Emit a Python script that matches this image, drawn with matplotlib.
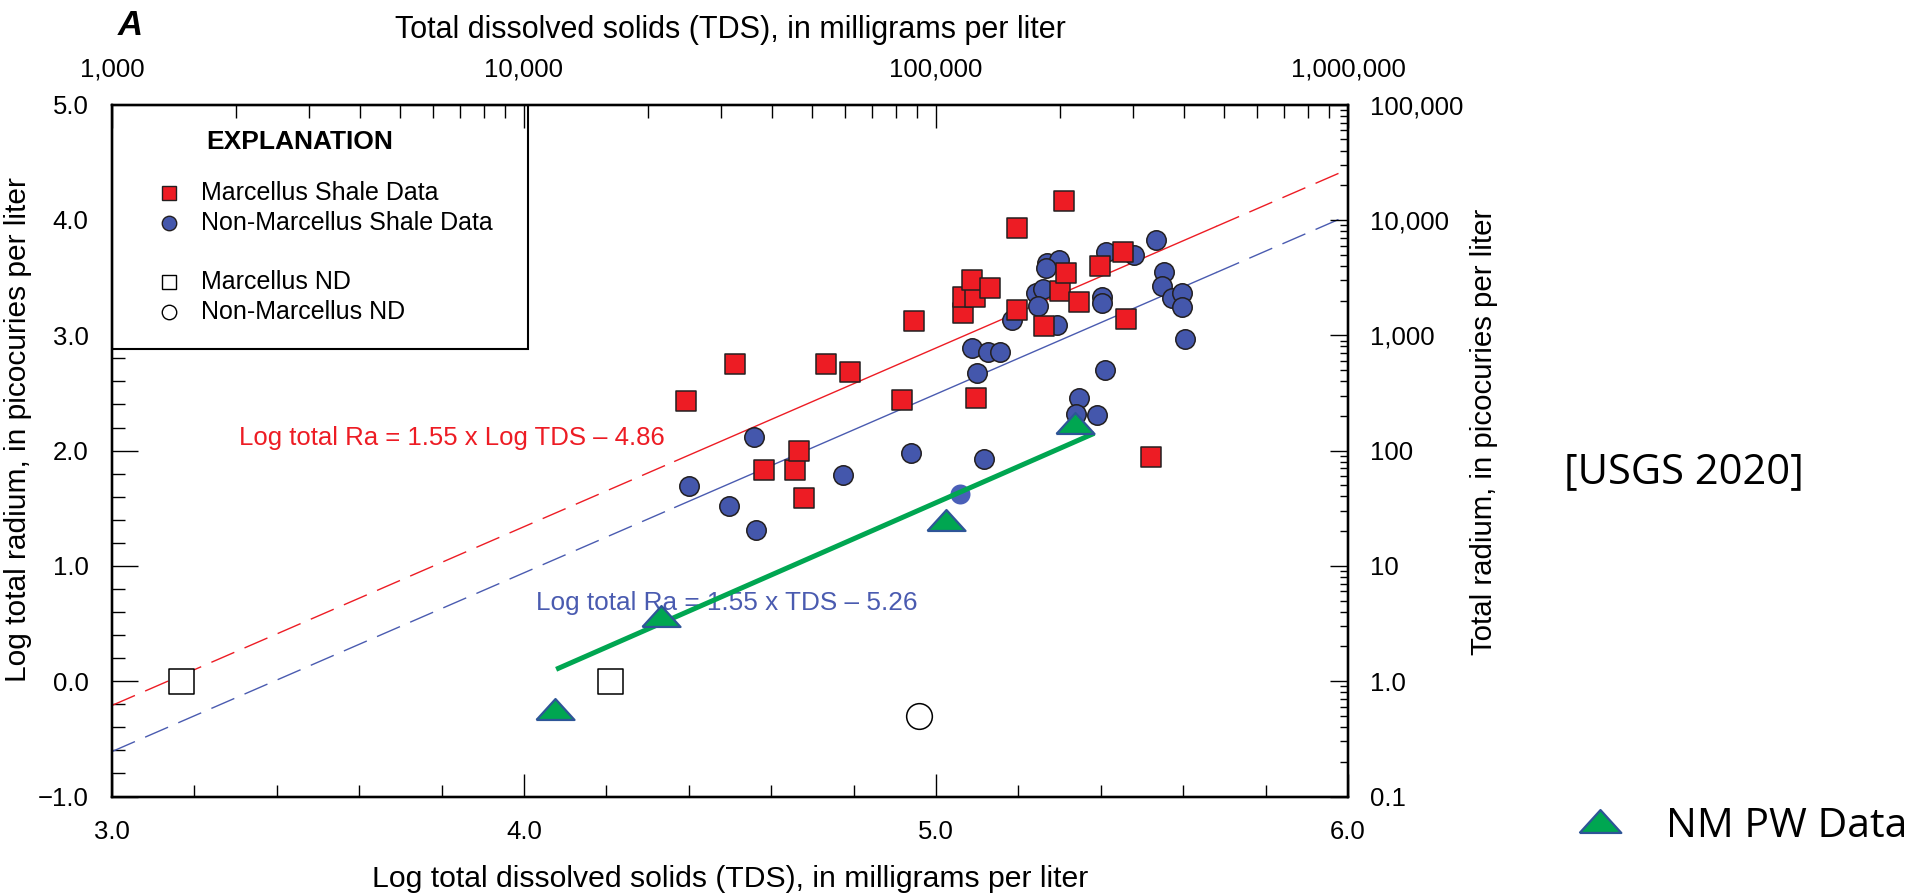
import numpy as np
import matplotlib
matplotlib.use("Agg")
import matplotlib.pyplot as plt
from matplotlib import font_manager as fm
from matplotlib.patches import Rectangle
from matplotlib.ticker import FixedLocator, MultipleLocator, FuncFormatter, LogLocator

# values: log TDS (x) against log total radium (y)
marcellus_x = [4.393, 4.512, 4.733, 4.791, 4.582, 4.657, 4.667, 4.680, 4.917, 4.947,
               5.065, 5.066, 5.095, 5.088, 5.131, 5.097, 5.196, 5.196, 5.262, 5.301,
               5.316, 5.311, 5.348, 5.398, 5.453, 5.461, 5.522]
marcellus_y = [2.433, 2.748, 2.748, 2.680, 1.832, 1.832, 2.000, 1.586, 2.440, 3.127,
               3.190, 3.335, 3.335, 3.480, 3.410, 2.454, 3.933, 3.220, 3.083, 3.380,
               3.540, 4.165, 3.290, 3.604, 3.725, 3.140, 1.947]

non_marcellus_x = [4.401, 4.498, 4.562, 4.559, 4.775, 4.939, 5.117, 5.087, 5.127, 5.155,
                   5.099, 5.185, 5.269, 5.299, 5.267, 5.243, 5.260, 5.248, 5.293, 5.348,
                   5.341, 5.390, 5.534, 5.413, 5.481, 5.554, 5.549, 5.574, 5.598, 5.598,
                   5.604, 5.402, 5.402, 5.410]
non_marcellus_y = [1.693, 1.520, 1.311, 2.120, 1.790, 1.980, 1.925, 2.887, 2.858, 2.858,
                   2.670, 3.133, 3.624, 3.653, 3.580, 3.364, 3.400, 3.250, 3.090, 2.459,
                   2.320, 2.310, 3.827, 3.725, 3.700, 3.546, 3.428, 3.326, 3.364, 3.248,
                   2.968, 3.335, 3.283, 2.700]
# one point that has no outline in the source figure
non_marcellus_plain_x = [5.058]
non_marcellus_plain_y = [1.624]

marcellus_nd_x = [3.167, 4.209]
marcellus_nd_y = [0.0, 0.0]
non_marcellus_nd_x = [4.959]
non_marcellus_nd_y = [-0.302]

nm_pw_x = [4.075, 4.332, 5.024, 5.338]
nm_pw_y = [-0.241, 0.565, 1.398, 2.242]
nm_fit_x = [4.078, 5.384]
nm_fit_y = [0.103, 2.150]

# regression lines as printed on the chart: (slope, intercept)
marcellus_fit = (1.55, -4.86)
non_marcellus_fit = (1.55, -5.26)
fit_span = (4.366, 5.68)   # solid part, dashed outside
x_range = (3.0, 6.0)

x_ticks = [3, 4, 5, 6]
y_ticks = [-1, 0, 1, 2, 3, 4, 5]
tds_ticks = [1e3, 1e4, 1e5, 1e6]
ra_ticks = [0.1, 1, 10, 100, 1e3, 1e4, 1e5]

RED = "#ED1C24"
BLUE = "#4457AC"
LINE_BLUE = "#4A5BB0"
GREEN = "#00A651"
TRI_EDGE = "#2E5597"
DARK = "#231F20"

available = {f.name for f in fm.fontManager.ttflist}
SANS = "Liberation Sans" if "Liberation Sans" in available else "DejaVu Sans"
NARROW = "Liberation Sans Narrow" if "Liberation Sans Narrow" in available else SANS
TICK_SIZE = 21 if NARROW != SANS else 18.5
SLIDE = "Open Sans" if "Open Sans" in available else "DejaVu Sans"
plt.rcParams["font.family"] = SANS

# flat triangle used for the NM produced-water points
TRI = [(-1, -0.55), (1, -0.55), (0, 0.55), (-1, -0.55)]

fig = plt.figure(figsize=(19.21, 8.94), dpi=100)
ax = fig.add_axes([0.0583, 0.10906, 0.64342, 0.77383])
ax_r = ax.twinx()
ax_t = ax.twiny()

# regression lines, solid over the fitted span and dashed beyond it
for (m, b), col in [(marcellus_fit, RED), (non_marcellus_fit, LINE_BLUE)]:
    xs = np.array(fit_span)
    ax.plot(xs, m * xs + b, color=col, lw=1.0, zorder=2)
    for seg in [(x_range[0], fit_span[0]), (fit_span[1], x_range[1])]:
        xs = np.array(seg)
        ax.plot(xs, m * xs + b, color=col, lw=1.0, ls=(0, (18, 8)), zorder=2)

ax.scatter(non_marcellus_plain_x, non_marcellus_plain_y, s=14.4 ** 2, marker="o",
           color="#4A5FB8", linewidths=0, zorder=3)
ax.scatter(non_marcellus_x, non_marcellus_y, s=14 ** 2, marker="o", facecolor=BLUE,
           edgecolor=DARK, linewidths=1.1, zorder=3)
ax.scatter(marcellus_x, marcellus_y, s=14.4 ** 2, marker="s", facecolor=RED,
           edgecolor=DARK, linewidths=1.1, zorder=4)
ax.scatter(marcellus_nd_x, marcellus_nd_y, s=18 ** 2, marker="s", facecolor="white",
           edgecolor="black", linewidths=1.1, zorder=4)
ax.scatter(non_marcellus_nd_x, non_marcellus_nd_y, s=18.5 ** 2, marker="o", facecolor="white",
           edgecolor="black", linewidths=1.1, zorder=4)
ax.plot(nm_fit_x, nm_fit_y, color=GREEN, lw=3.6, solid_capstyle="butt", zorder=5)
ax.scatter(nm_pw_x, nm_pw_y, s=27.4 ** 2, marker=TRI, facecolor=GREEN,
           edgecolor=TRI_EDGE, linewidths=1.6, zorder=6)

ax.text(3.308, 2.049, "Log total Ra = 1.55 x Log TDS \u2013 4.86", color=RED,
        fontsize=18.5, va="baseline", zorder=2)
ax.text(4.028, 0.617, "Log total Ra = 1.55 x TDS \u2013 5.26", color=LINE_BLUE,
        fontsize=18.8, va="baseline", zorder=2)

# axes, scales, ticks
ax.set_xlim(*x_range)
ax.set_ylim(y_ticks[0], y_ticks[-1])
ax.xaxis.set_major_locator(FixedLocator(x_ticks))
ax.xaxis.set_minor_locator(MultipleLocator(0.2))
ax.yaxis.set_major_locator(FixedLocator(y_ticks))
ax.yaxis.set_minor_locator(MultipleLocator(0.2))
one_dec = FuncFormatter(lambda v, p: f"{v:.1f}".replace("-", "\u2212"))
ax.xaxis.set_major_formatter(one_dec)
ax.yaxis.set_major_formatter(one_dec)

ax_t.set_xscale("log")
ax_t.set_xlim(tds_ticks[0], tds_ticks[-1])
ax_t.xaxis.set_major_locator(FixedLocator(tds_ticks))
ax_t.xaxis.set_minor_locator(LogLocator(base=10, subs=np.arange(2, 10)))
ax_t.xaxis.set_major_formatter(FuncFormatter(lambda v, p: f"{v:,.0f}"))

ax_r.set_yscale("log")
ax_r.set_ylim(ra_ticks[0], ra_ticks[-1])
ax_r.yaxis.set_major_locator(FixedLocator(ra_ticks))
ax_r.yaxis.set_minor_locator(LogLocator(base=10, subs=np.arange(2, 10), numticks=20))
ax_r.yaxis.set_major_formatter(FuncFormatter(
    lambda v, p: "0.1" if v < 1 else ("1.0" if v == 1 else f"{v:,.0f}")))

for a in (ax, ax_r, ax_t):
    a.tick_params(which="both", direction="in", width=1.0, colors="black",
                  labelsize=TICK_SIZE, labelfontfamily=NARROW, pad=17)
    for sp in a.spines.values():
        sp.set_linewidth(1.6)
ax.tick_params(axis="y", which="major", length=18.7)
ax.tick_params(axis="y", which="minor", length=9.7)
ax.tick_params(axis="x", which="major", length=16.6)
ax.tick_params(axis="x", which="minor", length=8.5)
ax_t.tick_params(axis="x", which="major", length=16.6)
ax_t.tick_params(axis="x", which="minor", length=9)
ax_r.tick_params(axis="y", which="major", length=13, pad=15.5)
ax_r.tick_params(axis="y", which="minor", length=5.8)

ax.set_xlabel("Log total dissolved solids (TDS), in milligrams per liter", fontsize=21.7)
ax.xaxis.set_label_coords(0.5, -0.099)
ax_t.set_xlabel("Total dissolved solids (TDS), in milligrams per liter", fontsize=22)
ax_t.xaxis.set_label_coords(0.5, 1.0964)
ax.set_ylabel("Log total radium, in picocuries per liter", fontsize=21.5)
ax.yaxis.set_label_coords(-0.0647, 0.5298)
ax_r.set_ylabel("Total radium, in picocuries per liter", fontsize=21.2)
ax_r.yaxis.set_label_coords(1.0987, 0.527)

# explanation box in the upper left corner
ax.add_patch(Rectangle((0, 0.6469), 0.3363, 0.3531, transform=ax.transAxes,
                       facecolor="white", edgecolor="black", lw=1.5, zorder=2.4))
ax.text(0.1521, 0.9461, "EXPLANATION", transform=ax.transAxes, fontsize=19,
        fontweight="bold", ha="center", va="center", zorder=7)
legend_rows = [
    ("Marcellus Shale Data", "s", RED, DARK, 0.8728),
    ("Non-Marcellus Shale Data", "o", BLUE, DARK, 0.8294),
    ("Marcellus ND", "s", "white", "black", 0.7441),
    ("Non-Marcellus ND", "o", "white", "black", 0.7007),
]
for label, mk, fc, ec, ry in legend_rows:
    ax.plot([0.0461], [ry], marker=mk, ms=10.4, mfc=fc, mec=ec, mew=1.0, ls="none",
            transform=ax.transAxes, clip_on=False, zorder=7)
    ax.text(0.072, ry, label, transform=ax.transAxes, fontsize=18, va="center", zorder=7)

# panel letter, source note and the added NM series key
fig.text(118 / 1921, 1 - 35 / 894, "A", fontsize=25, fontweight="bold",
         fontstyle="italic", va="baseline")
fig.text(1684 / 1921, 1 - 472 / 894, "[USGS 2020]", fontsize=30, family=SLIDE,
         ha="center", va="center")
ax.plot([1600 / 1921], [1 - 821 / 894], marker=TRI, ms=30, mfc=GREEN, mec=TRI_EDGE,
        mew=1.6, ls="none", transform=fig.transFigure, clip_on=False)
fig.text(1666 / 1921, 1 - 837 / 894, "NM PW Data", fontsize=29.5, family=SLIDE,
         va="baseline")

fig.savefig("out.png", dpi=100)
